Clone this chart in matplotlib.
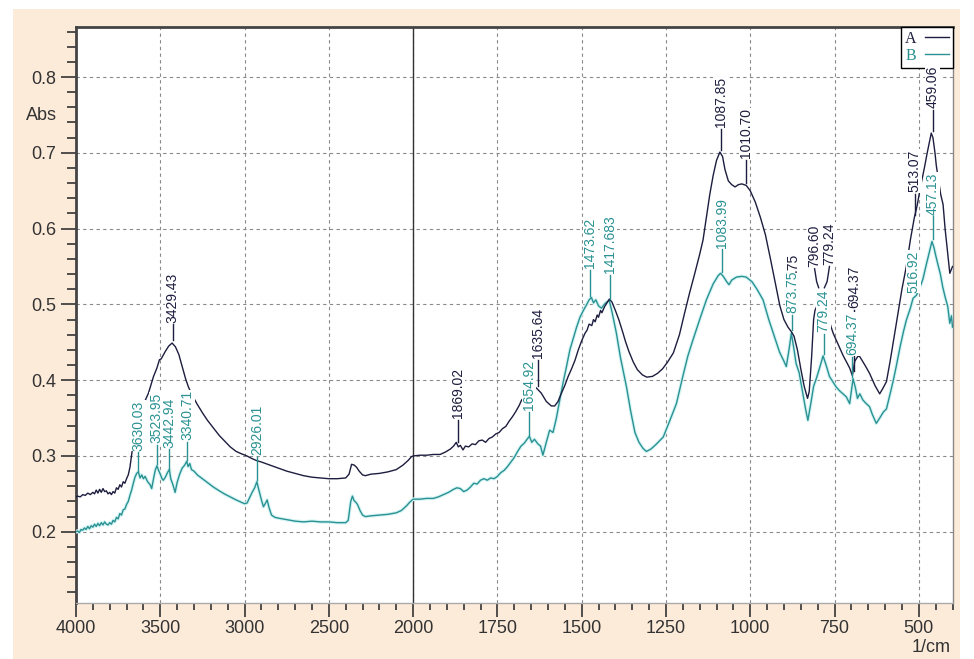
import numpy as np
import matplotlib
matplotlib.use("Agg")
import matplotlib.pyplot as plt
from matplotlib.patches import Rectangle
from matplotlib.ticker import FixedLocator, FormatStrFormatter

plt.rcParams['font.family'] = ['Liberation Sans', 'DejaVu Sans']

# === data: wavenumber (1/cm) and absorbance ===
wn_a = [4000, 3990, 3975, 3960, 3945, 3930, 3915, 3900, 3890, 3880, 3870, 3860, 3850, 3840,
        3830, 3820, 3810, 3800, 3790, 3780, 3770, 3760, 3750, 3740, 3730, 3720, 3710, 3700,
        3690, 3680, 3670, 3660, 3640, 3620, 3600, 3570, 3540, 3520, 3505, 3495, 3470, 3450,
        3430, 3410, 3390, 3370, 3350, 3333, 3310, 3283, 3250, 3220, 3185, 3150, 3120, 3085,
        3050, 3020, 2986, 2960, 2930, 2900, 2850, 2800, 2750, 2700, 2650, 2600, 2550, 2500,
        2450, 2400, 2380, 2365, 2350, 2335, 2320, 2300, 2283, 2250, 2200, 2150, 2100, 2060,
        2030, 2010, 2000,
        1980, 1960, 1940, 1920, 1905, 1890, 1880, 1872, 1866, 1860, 1852, 1845, 1835, 1825,
        1815, 1805, 1795, 1785, 1775, 1765, 1755, 1745, 1735, 1725, 1715, 1705, 1695, 1685,
        1678, 1665, 1650, 1635, 1620, 1605, 1590, 1580, 1570, 1560, 1550, 1540, 1530, 1520,
        1510, 1500, 1490, 1484, 1478, 1470, 1465, 1460, 1454, 1450, 1444, 1440, 1432, 1425,
        1418, 1410, 1400, 1390,
        1380, 1370, 1360, 1347, 1335, 1320, 1307, 1290, 1275, 1260, 1245, 1228, 1210, 1195,
        1180, 1165, 1150, 1140, 1130, 1120, 1110, 1100, 1090, 1082, 1075, 1065, 1055, 1045,
        1035, 1025, 1012, 1000, 985, 970, 955, 940, 925, 912, 900, 888, 878, 870, 860, 850,
        840, 830, 825, 818, 812, 808, 800, 790, 780, 770, 760, 754, 740, 725, 712, 705, 697,
        690, 680, 675, 660, 646, 630, 616, 608, 596, 585, 575, 562, 550, 537, 525, 513, 505,
        495, 483, 475, 468, 463, 458, 452, 448, 440, 435, 428, 422, 415, 408, 400]
abs_a = [0.246, 0.247, 0.246, 0.249, 0.248, 0.251, 0.249, 0.252, 0.250, 0.255, 0.251, 0.256,
         0.252, 0.257, 0.253, 0.254, 0.250, 0.252, 0.249, 0.253, 0.251, 0.258, 0.256, 0.262,
         0.259, 0.266, 0.264, 0.270, 0.275, 0.285, 0.302, 0.318, 0.340, 0.356, 0.368, 0.383,
         0.405, 0.416, 0.427, 0.428, 0.438, 0.445, 0.449, 0.444, 0.434, 0.418, 0.402, 0.391,
         0.380, 0.369, 0.357, 0.347, 0.337, 0.327, 0.320, 0.312, 0.306, 0.303, 0.300, 0.297,
         0.294, 0.292, 0.288, 0.284, 0.280, 0.277, 0.274, 0.272, 0.271, 0.270, 0.270, 0.271,
         0.276, 0.289, 0.288, 0.285, 0.280, 0.275, 0.274, 0.276, 0.277, 0.279, 0.282, 0.288,
         0.294, 0.299, 0.300,
         0.301, 0.301, 0.302, 0.302, 0.305, 0.309, 0.313, 0.318, 0.312, 0.314, 0.308, 0.313,
         0.312, 0.316, 0.315, 0.320, 0.321, 0.318, 0.323, 0.325, 0.329, 0.331, 0.336, 0.339,
         0.346, 0.352, 0.359, 0.367, 0.374, 0.380, 0.385, 0.390, 0.383, 0.372, 0.366, 0.366,
         0.372, 0.383, 0.393, 0.405, 0.415, 0.426, 0.440, 0.452, 0.462, 0.466, 0.474, 0.472,
         0.480, 0.477, 0.486, 0.483, 0.492, 0.489, 0.497, 0.502, 0.507, 0.503, 0.492, 0.480,
         0.466, 0.451, 0.438, 0.424,
         0.414, 0.407, 0.404, 0.405, 0.409, 0.415, 0.424, 0.436, 0.460, 0.488, 0.515, 0.540,
         0.566, 0.585, 0.615, 0.645, 0.670, 0.690, 0.701, 0.695, 0.678, 0.663, 0.658, 0.655,
         0.658, 0.659, 0.657, 0.650, 0.635, 0.615, 0.592, 0.560, 0.527, 0.498, 0.480, 0.470,
         0.464, 0.458, 0.440, 0.415, 0.392, 0.376, 0.385, 0.430, 0.480, 0.492, 0.500, 0.497,
         0.498, 0.485, 0.470, 0.462, 0.448, 0.433, 0.422, 0.416, 0.406, 0.425, 0.432, 0.431,
         0.420, 0.409, 0.393, 0.382, 0.388, 0.398, 0.425, 0.452, 0.488, 0.520, 0.550, 0.585,
         0.615, 0.630, 0.655, 0.681, 0.700, 0.715, 0.726, 0.720, 0.700, 0.683, 0.660, 0.645,
         0.632, 0.600, 0.570, 0.541, 0.550]

wn_b = [4000, 3990, 3980, 3970, 3960, 3950, 3940, 3930, 3920, 3910, 3900, 3890, 3880, 3870,
        3860, 3850, 3840, 3830, 3820, 3810, 3800, 3790, 3780, 3770, 3760, 3750, 3740, 3730,
        3720, 3710, 3700, 3690, 3680, 3670, 3660, 3650, 3640, 3630, 3620, 3610, 3600, 3590,
        3575, 3560, 3551, 3540, 3530, 3520, 3510, 3500, 3490, 3482, 3470, 3455, 3446, 3438,
        3425, 3412, 3400, 3385, 3370, 3355, 3343, 3335, 3325, 3315, 3300, 3280, 3250, 3220,
        3185, 3150, 3120, 3085, 3050, 3020, 3000, 2985, 2970, 2955, 2940, 2927, 2915, 2900,
        2888, 2875, 2866, 2855, 2840, 2820, 2800, 2750, 2700, 2650, 2600, 2550, 2500, 2450,
        2400, 2385, 2370, 2360, 2350, 2340, 2330, 2315, 2300, 2283, 2250, 2200, 2150, 2100,
        2070, 2040, 2020, 2000,
        1980, 1960, 1940, 1925, 1910, 1895, 1880, 1870, 1860, 1850, 1840, 1830, 1820, 1810,
        1800, 1790, 1780, 1770, 1760, 1750, 1740, 1730, 1720, 1710, 1700, 1690, 1680, 1670,
        1662, 1655, 1648, 1640, 1630, 1622, 1615, 1605, 1595, 1585, 1575, 1565, 1555, 1545,
        1535, 1525, 1515, 1505, 1495, 1485, 1478, 1471, 1465, 1458, 1450, 1441, 1433, 1426,
        1418, 1410, 1397, 1385, 1367, 1355, 1342, 1330, 1318, 1308, 1295, 1280, 1258, 1240,
        1219, 1200, 1185, 1170, 1150, 1130, 1110, 1095, 1088, 1080, 1070, 1063, 1055, 1041,
        1025, 1012, 995, 980, 962, 945, 930, 913, 900, 893, 885, 878, 870, 864, 855, 845,
        835, 829, 820, 812, 804, 795, 784, 775, 765, 755, 745, 735, 725, 715, 705, 700, 695,
        688, 682, 675, 666, 658, 646, 638, 626, 616, 605, 596, 585, 575, 567, 555, 545, 537,
        525, 517, 507, 497, 488, 478, 468, 461, 455, 450, 444, 436, 429, 422, 414, 408, 403,
        400]
abs_b = [0.200, 0.201, 0.199, 0.203, 0.202, 0.205, 0.203, 0.207, 0.204, 0.208, 0.206, 0.210,
         0.207, 0.211, 0.208, 0.212, 0.209, 0.213, 0.210, 0.209, 0.212, 0.210, 0.215, 0.213,
         0.219, 0.217, 0.224, 0.222, 0.229, 0.230, 0.236, 0.240, 0.248, 0.255, 0.264, 0.272,
         0.277, 0.279, 0.271, 0.275, 0.270, 0.273, 0.266, 0.262, 0.257, 0.270, 0.281, 0.287,
         0.281, 0.276, 0.270, 0.268, 0.272, 0.279, 0.282, 0.270, 0.262, 0.252, 0.265, 0.276,
         0.284, 0.288, 0.293, 0.286, 0.290, 0.282, 0.280, 0.275, 0.270, 0.265, 0.259, 0.254,
         0.250, 0.246, 0.242, 0.239, 0.237, 0.238, 0.245, 0.252, 0.258, 0.266, 0.255, 0.242,
         0.233, 0.238, 0.242, 0.232, 0.222, 0.219, 0.218, 0.216, 0.214, 0.213, 0.214, 0.213,
         0.213, 0.212, 0.212, 0.215, 0.240, 0.247, 0.241, 0.239, 0.236, 0.228, 0.222, 0.220,
         0.221, 0.222, 0.223, 0.225, 0.228, 0.234, 0.239, 0.243,
         0.243, 0.244, 0.244, 0.246, 0.249, 0.252, 0.256, 0.258, 0.257, 0.253, 0.255, 0.259,
         0.264, 0.263, 0.268, 0.270, 0.268, 0.271, 0.270, 0.273, 0.278, 0.281, 0.286, 0.292,
         0.298, 0.306, 0.313, 0.317, 0.322, 0.326, 0.318, 0.322, 0.316, 0.313, 0.301, 0.318,
         0.334, 0.331, 0.350, 0.374, 0.397, 0.418, 0.440, 0.455, 0.470, 0.483, 0.492, 0.500,
         0.506, 0.509, 0.502, 0.506, 0.498, 0.495, 0.500, 0.503, 0.505, 0.490, 0.462, 0.430,
         0.391, 0.360, 0.331, 0.318, 0.310, 0.306, 0.309, 0.315, 0.325, 0.345, 0.369, 0.405,
         0.432, 0.453, 0.480, 0.506, 0.527, 0.538, 0.541, 0.537, 0.530, 0.526, 0.532, 0.536,
         0.537, 0.536, 0.530, 0.520, 0.506, 0.480, 0.460, 0.437, 0.425, 0.418, 0.440, 0.462,
         0.440, 0.422, 0.410, 0.385, 0.360, 0.347, 0.370, 0.392, 0.402, 0.415, 0.432, 0.420,
         0.405, 0.398, 0.391, 0.386, 0.382, 0.378, 0.369, 0.385, 0.402, 0.390, 0.376, 0.382,
         0.374, 0.370, 0.365, 0.355, 0.343, 0.350, 0.358, 0.362, 0.382, 0.401, 0.418, 0.445,
         0.465, 0.479, 0.495, 0.508, 0.512, 0.522, 0.533, 0.552, 0.570, 0.583, 0.575, 0.565,
         0.554, 0.540, 0.523, 0.510, 0.497, 0.475, 0.485, 0.470]

# peak labels: (text, peak wavenumber)
peaks_a = ["3429.43", "1869.02", "1635.64", "1087.85", "1010.70", "796.60", "779.24",
           "694.37", "513.07", "459.06"]
peaks_b = ["3630.03", "3523.95", "3442.94", "3340.71", "2926.01", "1654.92", "1473.62",
           "1417.683", "1083.99", "873.75", "779.24", "694.37", "516.92", "457.13"]

# label placement (x of text, leader start, text bottom)
place_a = [(3426, 0.453, 0.476), (1868, 0.318, 0.350), (1630, 0.392, 0.429),
           (1087, 0.704, 0.734), (1012, 0.660, 0.693), (809, None, 0.549),
           (765, None, 0.552), (691, 0.412, 0.495), (512, 0.618, 0.648),
           (459, 0.729, 0.759)]
place_b = [(3630, 0.280, 0.307), (3521, 0.289, 0.317), (3446, 0.283, 0.311),
           (3339, 0.295, 0.321), (2924, 0.268, 0.301), (1656, 0.328, 0.360),
           (1475, 0.511, 0.548), (1416, 0.507, 0.541), (1085, 0.543, 0.575),
           (875, 0.466, 0.488), (782, 0.434, 0.463), (697, 0.404, 0.433),
           (516, None, 0.515), (458, 0.586, 0.618)]

col_a = '#1d1d3f'
col_b = '#2a9192'


def fwd(w):
    w = np.asarray(w, dtype=float)
    return np.where(w < 2000, w, 2000 + (w - 2000) / 2.0)


def inv(u):
    u = np.asarray(u, dtype=float)
    return np.where(u < 2000, u, 2000 + (u - 2000) * 2.0)


fig = plt.figure(figsize=(9.74, 6.59), dpi=100)
fig.patches.append(Rectangle((13 / 974, 0), 947 / 974, 650 / 659, transform=fig.transFigure,
                             facecolor='#fdebda', edgecolor='none', zorder=-10))
ax = fig.add_axes([76 / 974, 1 - 603 / 659, 876.5 / 974, 576 / 659])
ax.set_facecolor('white')
ax.set_xscale('function', functions=(fwd, inv))
ax.set_xlim(4000, 400)
ax.set_ylim(0.106, 0.866)

# grid
xmaj = [4000, 3500, 3000, 2500, 2000, 1750, 1500, 1250, 1000, 750, 500]
xmin = [w for w in range(3900, 2000, -100) if w % 500] + \
       [w for w in range(1950, 399, -50) if w % 250]
ax.xaxis.set_major_locator(FixedLocator(xmaj))
ax.xaxis.set_minor_locator(FixedLocator(xmin))
ax.xaxis.set_major_formatter(FormatStrFormatter('%d'))
ax.yaxis.set_major_locator(FixedLocator([0.2, 0.3, 0.4, 0.5, 0.6, 0.7, 0.8]))
ax.yaxis.set_minor_locator(FixedLocator(np.arange(0.12, 0.87, 0.02)))
ax.yaxis.set_major_formatter(FormatStrFormatter('%.1f'))
ax.grid(True, which='major', color='#8a8a8a', linestyle=(0, (3, 3)), linewidth=0.8)
ax.axvline(2000, color='#333333', lw=1.0, zorder=2)

ax.tick_params(axis='x', which='major', length=10, width=1.2, pad=2, labelsize=13,
               colors='#333333', direction='out')
ax.tick_params(axis='x', which='minor', length=5, width=1.2, colors='#333333')
ax.tick_params(axis='y', which='major', length=11, width=1.2, pad=3, labelsize=13,
               colors='#333333', direction='out')
ax.tick_params(axis='y', which='minor', length=6.5, width=1.2, colors='#333333')
for s in ['left', 'top']:
    ax.spines[s].set_color('#444444')
    ax.spines[s].set_linewidth(2)
ax.spines['bottom'].set_color('#aaaaaa')
ax.spines['bottom'].set_linewidth(1)
ax.spines['right'].set_color('#888888')
ax.spines['right'].set_linewidth(1)

# spectra
ax.plot(wn_b, abs_b, color='#d6f4f4', lw=2.6, zorder=3, solid_joinstyle='round')
lb, = ax.plot(wn_b, abs_b, color=col_b, lw=1.0, zorder=4, label='B')
la, = ax.plot(wn_a, abs_a, color=col_a, lw=1.0, zorder=4, label='A')


def put_labels(texts, places, color):
    out = []
    for t, (x, y0, y1) in zip(texts, places):
        if y0 is not None:
            ax.plot([x, x], [y0, y1 - 0.002], color=color, lw=1.0, zorder=5)
        out.append(ax.text(x, y1, t, rotation=90, ha='center', va='bottom', fontsize=10,
                           color=color, zorder=6,
                           bbox=dict(facecolor='white', edgecolor='none', pad=0.3)))
    return out


txt_a = put_labels(peaks_a, place_a, col_a)
txt_b = put_labels(peaks_b, place_b, col_b)
# bracket leaders for the close pair 796.60 / 779.24
ax.plot([809, 803, 797], [0.547, 0.530, 0.522], color=col_a, lw=1.0, zorder=5)
ax.plot([765, 772, 780], [0.550, 0.530, 0.522], color=col_a, lw=1.0, zorder=5)

# overlapped label tail next to 873.75
fig.canvas.draw()
bb = txt_b[peaks_b.index("873.75")].get_window_extent()
x_disp = ax.transData.transform((875, 0.5))[0]
y_top = ax.transData.inverted().transform((x_disp, bb.y1 - 1))[1]
ax.text(875, y_top, ".75", rotation=90, ha='center', va='bottom', fontsize=10,
        color=col_a, zorder=6, bbox=dict(facecolor='white', edgecolor='none', pad=0.3))

leg = ax.legend(handles=[la, lb], loc='upper right', borderaxespad=0, markerfirst=False,
                fancybox=False, framealpha=1, edgecolor='black', handlelength=1.5,
                handletextpad=0.5, borderpad=0.25, labelspacing=0.05,
                labelcolor='linecolor', prop={'family': 'Liberation Serif', 'size': 11.5})
leg.get_frame().set_linewidth(1.0)

fig.text(41.7 / 974, 1 - 115 / 659, 'Abs', ha='center', va='center', fontsize=13,
         color='#333333')
fig.text(951 / 974, 1 - 647 / 659, '1/cm', ha='right', va='center', fontsize=13,
         color='#333333')

fig.savefig('out.png', dpi=100, facecolor='white')
